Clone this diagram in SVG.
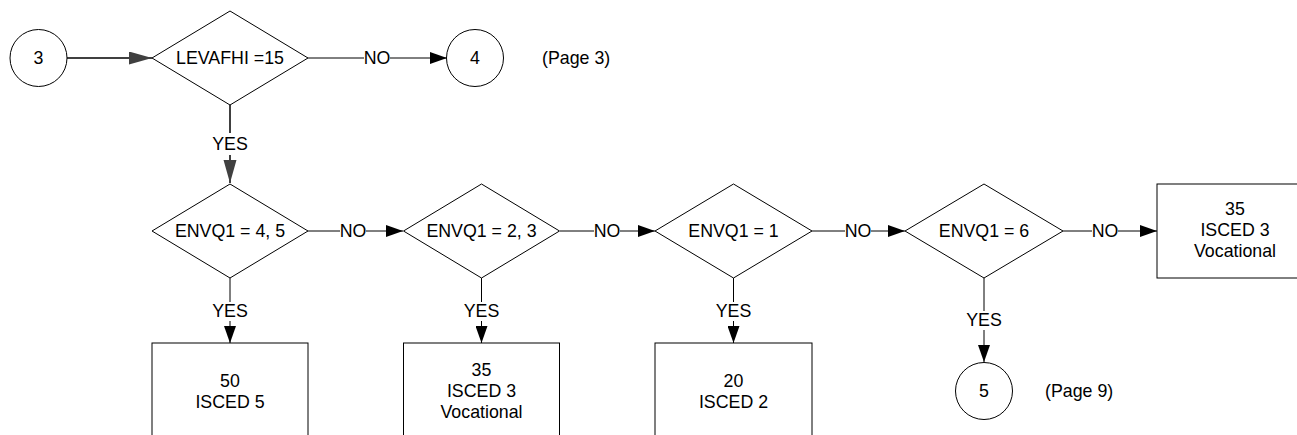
<svg xmlns="http://www.w3.org/2000/svg" width="1297" height="435" viewBox="0 0 1297 435">
<style>
text{font-family:"Liberation Sans",Arial,sans-serif;font-size:17.8px;fill:#000;text-anchor:middle}
.shape{fill:#fff;stroke:#000;stroke-width:1}
.ln{fill:none;stroke:#000;stroke-width:1}
.gl{fill:none;stroke:#404040;stroke-width:2}
.note{text-anchor:start}
</style>
<defs>
<marker id="arr" markerUnits="userSpaceOnUse" markerWidth="18" markerHeight="12" refX="17" refY="6" orient="auto"><path d="M0,0 L17,6 L0,12 Z" fill="#000"/></marker>
<marker id="garr" markerUnits="userSpaceOnUse" markerWidth="24" markerHeight="14" refX="23" refY="6.5" orient="auto"><path d="M0,0 L23,6.5 L0,13 Z" fill="#404040"/></marker>
</defs>
<g id="connectors">
<line class="gl" x1="67" y1="58" x2="152" y2="58" marker-end="url(#garr)"/>
<line class="ln" x1="308" y1="58" x2="364" y2="58"/>
<text x="377" y="64">NO</text>
<line class="ln" x1="390" y1="58" x2="447" y2="58" marker-end="url(#arr)"/>
<line class="gl" x1="230" y1="105" x2="230" y2="133"/>
<text x="230" y="150">YES</text>
<line class="gl" x1="230" y1="155" x2="230" y2="183" marker-end="url(#garr)"/>
<line class="ln" x1="308" y1="231" x2="340" y2="231"/>
<text x="353" y="237">NO</text>
<line class="ln" x1="366" y1="231" x2="403" y2="231" marker-end="url(#arr)"/>
<line class="ln" x1="560" y1="231" x2="594" y2="231"/>
<text x="607" y="237">NO</text>
<line class="ln" x1="620" y1="231" x2="655" y2="231" marker-end="url(#arr)"/>
<line class="ln" x1="812" y1="231" x2="845" y2="231"/>
<text x="858" y="237">NO</text>
<line class="ln" x1="871" y1="231" x2="905" y2="231" marker-end="url(#arr)"/>
<line class="ln" x1="1063" y1="231" x2="1092" y2="231"/>
<text x="1105" y="237">NO</text>
<line class="ln" x1="1118" y1="231" x2="1157" y2="231" marker-end="url(#arr)"/>
<line class="ln" x1="230" y1="278" x2="230" y2="302"/>
<text x="230" y="317">YES</text>
<line class="ln" x1="230" y1="321" x2="230" y2="343" marker-end="url(#arr)"/>
<line class="ln" x1="481.5" y1="278" x2="481.5" y2="302"/>
<text x="481.5" y="317">YES</text>
<line class="ln" x1="481.5" y1="321" x2="481.5" y2="343" marker-end="url(#arr)"/>
<line class="ln" x1="733.5" y1="278" x2="733.5" y2="302"/>
<text x="733.5" y="317">YES</text>
<line class="ln" x1="733.5" y1="321" x2="733.5" y2="343" marker-end="url(#arr)"/>
<line class="ln" x1="984" y1="278" x2="984" y2="311"/>
<text x="984" y="326">YES</text>
<line class="ln" x1="984" y1="330" x2="984" y2="362" marker-end="url(#arr)"/>
</g>
<g id="c3"><circle class="shape" cx="38.5" cy="58" r="28.5"/><text x="38.5" y="64">3</text></g>
<g id="d1"><polygon class="shape" points="152,58 230,11 308,58 230,105"/><text x="230" y="64">LEVAFHI =15</text></g>
<g id="c4"><circle class="shape" cx="475" cy="58" r="28.5"/><text x="475" y="64">4</text></g>
<g id="page3"><text class="note" x="542" y="64">(Page 3)</text></g>
<g id="d2"><polygon class="shape" points="152,231 230,184 308,231 230,278"/><text x="230" y="237">ENVQ1 = 4, 5</text></g>
<g id="d3"><polygon class="shape" points="403.5,231 481.5,184 559.5,231 481.5,278"/><text x="481.5" y="237">ENVQ1 = 2, 3</text></g>
<g id="d4"><polygon class="shape" points="655,231 733.5,184 812,231 733.5,278"/><text x="733.5" y="237">ENVQ1 = 1</text></g>
<g id="d5"><polygon class="shape" points="905,231 984,184 1063,231 984,278"/><text x="984" y="237">ENVQ1 = 6</text></g>
<g id="b5"><rect class="shape" x="1157" y="184" width="156" height="94"/><text x="1235" y="215">35</text><text x="1235" y="236">ISCED 3</text><text x="1235" y="257">Vocational</text></g>
<g id="b1"><rect class="shape" x="152" y="343" width="156" height="97"/><text x="230" y="387">50</text><text x="230" y="408">ISCED 5</text></g>
<g id="b2"><rect class="shape" x="403.5" y="343" width="156" height="97"/><text x="481.5" y="376">35</text><text x="481.5" y="397">ISCED 3</text><text x="481.5" y="418">Vocational</text></g>
<g id="b3"><rect class="shape" x="655" y="343" width="157" height="97"/><text x="733.5" y="387">20</text><text x="733.5" y="408">ISCED 2</text></g>
<g id="c5"><circle class="shape" cx="984" cy="391" r="28.5"/><text x="984" y="397">5</text></g>
<g id="page9"><text class="note" x="1045" y="397">(Page 9)</text></g>
</svg>
